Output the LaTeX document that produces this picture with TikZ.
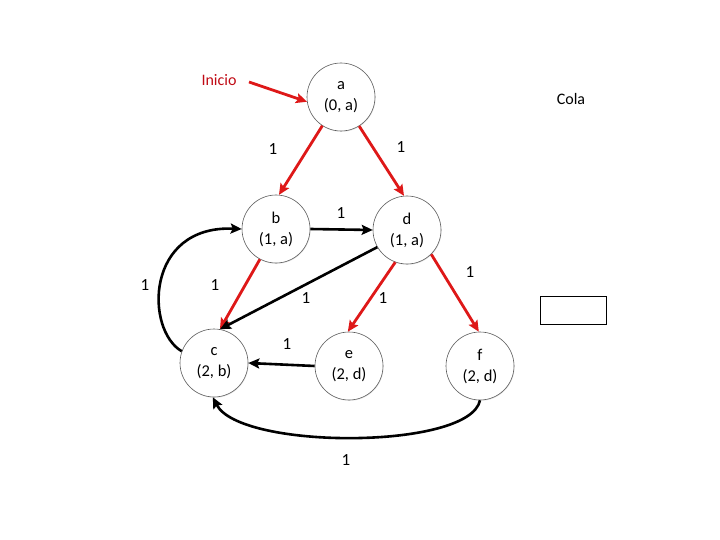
\documentclass[tikz,border=0pt]{standalone}
\usepackage{fontspec}
\setmainfont{Carlito}
\usetikzlibrary{arrows.meta,shadows}
\definecolor{redarrow}{RGB}{222,24,24}
\definecolor{redtext}{RGB}{192,10,20}
\begin{document}
\begin{tikzpicture}[x=1pt,y=-1pt,
  vert/.style={circle,draw=black!65,line width=0.6pt,fill=white,minimum size=68pt,inner sep=0pt,align=center,
    font=\fontsize{16.5}{21}\selectfont,drop shadow={opacity=0.2,shadow xshift=0.6pt,shadow yshift=-0.8pt}},
  redarr/.style={draw=redarrow,line width=2.8pt,-{Stealth[length=11pt,width=10pt,inset=2pt]}},
  blkarr/.style={draw=black,line width=2.6pt,-{Stealth[length=11pt,width=10pt,inset=2pt]}},
  wlab/.style={font=\fontsize{17}{19}\selectfont,inner sep=1pt}
]
\useasboundingbox (0,0) rectangle (720,540);
\node[vert] (a) at (341,97) {a\\(0, a)};
\node[vert] (b) at (276,229) {b\\(1, a)};
\node[vert] (d) at (407,230) {d\\(1, a)};
\node[vert] (c) at (214,363) {c\\(2, b)};
\node[vert] (e) at (349,366) {e\\(2, d)};
\node[vert] (f) at (480,366) {f\\(2, d)};

\node[font=\fontsize{16}{18}\selectfont,text=redtext] (inicio) at (219,80) {Inicio};
\coordinate (istart) at (249,82);
\node[font=\fontsize{16}{18}\selectfont] (cola) at (571,99) {Cola};
\node[draw,line width=0.8pt,minimum width=66pt,minimum height=28pt,inner sep=0pt] (q) at (573,310) {};

\draw[redarr] (istart) -- (a.188);
\draw[redarr] (a.237) -- (b.85);
\draw[redarr] (a.-58) -- (d.95);
\draw[blkarr] (b.east) -- (d.west);
\draw[redarr] (b.-118) -- (c.80);
\draw[blkarr] (d.-150) -- (c.80);
\draw[redarr] (d.-110) -- (e.92);
\draw[redarr] (d.-45) -- (f.92);
\draw[blkarr] (e.west) -- (c.east);
\draw[blkarr] (c.160) .. controls (145,330) and (145,225) .. (b.west);
\draw[blkarr] (f.south) .. controls (470,450) and (240,450) .. (c.-92);

\node[wlab] (l1) at (273,149) {1};
\node[wlab] (l2) at (401,147) {1};
\node[wlab] (l3) at (341,213) {1};
\node[wlab] (l4) at (145,285) {1};
\node[wlab] (l5) at (215,285) {1};
\node[wlab] (l6) at (306,298) {1};
\node[wlab] (l7) at (383,298) {1};
\node[wlab] (l8) at (470,272) {1};
\node[wlab] (l9) at (287,344) {1};
\node[wlab] (l10) at (346,460) {1};
\end{tikzpicture}
\end{document}
